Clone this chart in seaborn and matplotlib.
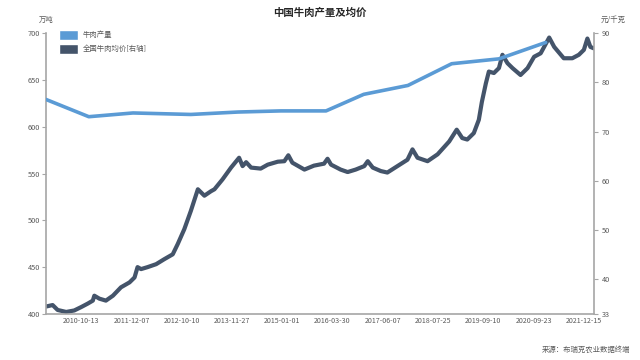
import numpy as np
import pandas as pd
import matplotlib
matplotlib.use("Agg")
import matplotlib.pyplot as plt
import seaborn as sns
from matplotlib.patches import Patch

# x axis is a category axis of dates; positions below are in sample units
tick_pos = [7, 17, 27, 37, 47, 57, 67, 77, 87, 97, 107]
tick_labels = ["2010-10-13", "2011-12-07", "2012-10-10", "2013-11-27",
               "2015-01-01", "2016-03-30", "2017-06-07", "2018-07-25",
               "2019-09-10", "2020-09-23", "2021-12-15"]

# beef output, 10k tonnes (2010-2021)
prod_pos = [0, 8.5, 17.3, 28.8, 38.2, 46.7, 55.7, 63.2, 72.0, 80.7, 90.1, 99.4]
prod_val = [629.1, 610.7, 614.7, 613.1, 615.7, 616.9, 616.9, 634.6, 644.1, 667.3, 672.5, 690.0]

# national average beef price, yuan/kg
price_pos = [0, 1.3, 2.3, 4.0, 5.6, 7.0, 8.3, 9.3, 9.6, 10.6, 11.9, 13.3, 14.9,
             16.6, 17.6, 18.2, 18.9, 20.2, 21.9, 23.5, 25.2, 26.2, 27.5, 28.8,
             30.2, 31.5, 32.8, 33.5, 35.1, 36.8, 38.4, 39.1, 39.8, 40.8, 42.7,
             44.1, 46.1, 47.4, 48.2, 49.0, 51.4, 53.3, 55.3, 56.0, 56.7, 58.6,
             60.0, 61.6, 63.3, 64.0, 65.0, 66.6, 67.9, 69.9, 71.9, 72.9, 73.9,
             75.9, 77.9, 80.2, 81.7, 82.8, 83.8, 85.1, 86.1, 86.7, 87.5, 88.1,
             89.1, 90.1, 90.8, 91.8, 92.8, 94.4, 95.8, 97.1, 98.4, 100.1, 101.1,
             103.0, 104.7, 106.0, 107.0, 107.7, 108.3, 109.0]
price_val = [34.5, 34.8, 33.8, 33.4, 33.7, 34.4, 35.1, 35.7, 36.7, 36.1, 35.7, 36.7, 38.4,
             39.4, 40.4, 42.5, 42.1, 42.5, 43.1, 44.1, 45.1, 47.2, 50.2, 53.9,
             58.3, 57.0, 57.9, 58.3, 60.3, 62.7, 64.7, 63.0, 63.8, 62.7, 62.5,
             63.3, 63.9, 64.0, 65.2, 63.7, 62.3, 63.1, 63.5, 64.5, 63.3, 62.3,
             61.8, 62.3, 63.0, 64.0, 62.7, 62.0, 61.7, 63.0, 64.3, 66.4, 64.7,
             64.0, 65.4, 68.0, 70.4, 68.7, 68.4, 69.7, 72.4, 76.0, 79.8, 82.2,
             81.9, 82.9, 85.6, 83.9, 82.9, 81.5, 82.9, 85.2, 85.9, 89.1, 87.2,
             84.9, 84.9, 85.6, 86.6, 88.9, 87.2, 86.9]

prod_df = pd.DataFrame({"pos": prod_pos, "val": prod_val})
price_df = pd.DataFrame({"pos": price_pos, "val": price_val})

sns.set_theme(style="white")
plt.rcParams["font.family"] = ["Noto Sans CJK SC", "DejaVu Sans"]

blue = "#5b9bd5"
dark = "#44546a"
grey = "#a6a6a6"
txt = "#595959"

fig = plt.figure(figsize=(6.4, 3.6), dpi=100)
ax = fig.add_axes([0.072, 0.128, 0.856, 0.78])
ax2 = ax.twinx()

sns.lineplot(data=prod_df, x="pos", y="val", ax=ax, color=blue, linewidth=2.6, zorder=3)
sns.lineplot(data=price_df, x="pos", y="val", ax=ax2, color=dark, linewidth=3.0)
ax.set_zorder(ax2.get_zorder() + 1)
ax.patch.set_visible(False)

ax.set_xlim(0, 109)
ax.set_ylim(400, 700)
ax2.set_ylim(33, 90)
ax.set_yticks([400, 450, 500, 550, 600, 650, 700])
ax2.set_yticks([33, 40, 50, 60, 70, 80, 90])
ax.set_xticks(tick_pos)
ax.set_xticklabels(tick_labels)
ax.set_xlabel("")
ax.set_ylabel("")
ax2.set_ylabel("")

for a in (ax, ax2):
    for s in a.spines.values():
        s.set_visible(False)
    a.tick_params(labelsize=5.3, colors=txt, length=3, width=0.8, pad=1.5)
    a.grid(False)
ax.spines["left"].set_visible(True)
ax.spines["bottom"].set_visible(True)
ax2.spines["right"].set_visible(True)
for s in (ax.spines["left"], ax.spines["bottom"], ax2.spines["right"]):
    s.set_color(grey)
    s.set_linewidth(1.2)
ax.tick_params(axis="both", color=grey)
ax2.tick_params(axis="y", color=grey, pad=2.5)
ax.tick_params(axis="x", direction="in", length=3, labelsize=5.1, pad=2)

fig.text(0.5, 0.978, "中国牛肉产量及均价", ha="center", va="top",
         fontsize=7.5, fontweight="bold", color="#262626")
fig.text(0.06, 0.945, "万吨", ha="left", va="center", fontsize=5.3, color=txt)
fig.text(0.958, 0.945, "元/千克", ha="center", va="center", fontsize=5.3, color=txt)
fig.text(0.985, 0.018, "来源：布瑞克农业数据终端", ha="right", va="bottom",
         fontsize=5.3, color=txt)

handles = [Patch(facecolor=blue, label="牛肉产量"),
           Patch(facecolor=dark, label="全国牛肉均价[右轴]")]
ax.legend(handles=handles, loc="upper left", bbox_to_anchor=(0.012, 1.035),
          frameon=False, fontsize=5.3, labelcolor=txt, handlelength=2.6,
          handleheight=1.7, labelspacing=0.55, handletextpad=0.6)

fig.savefig("out.png", dpi=100)
